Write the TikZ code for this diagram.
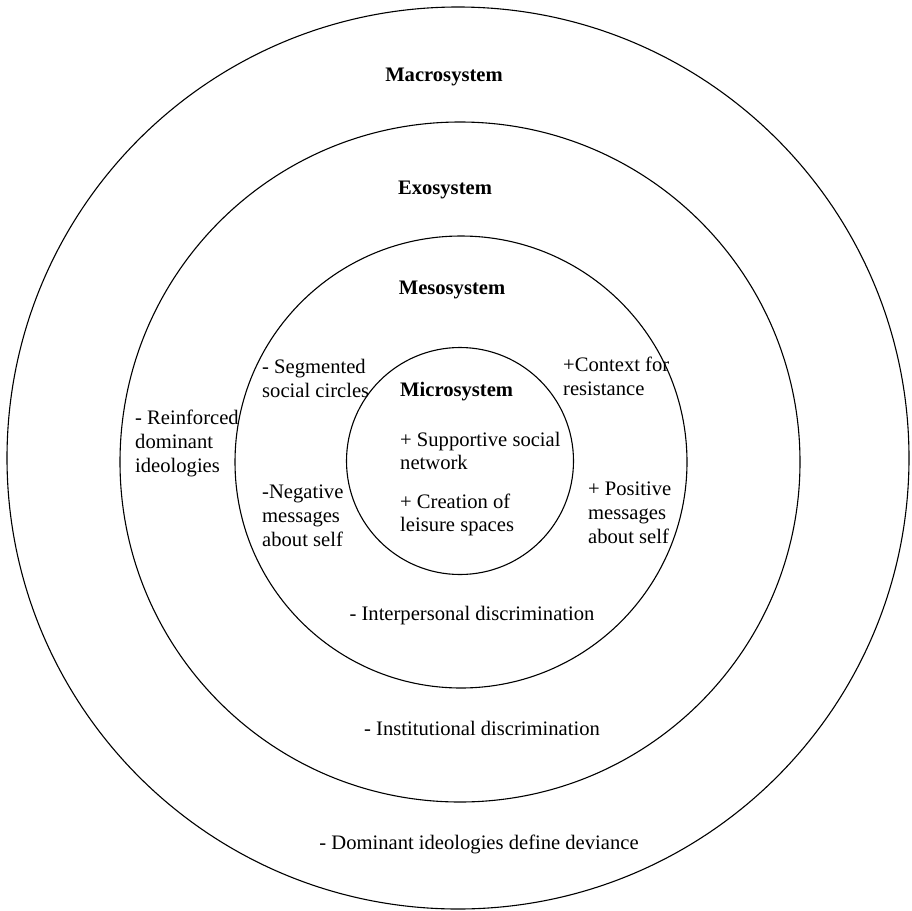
\documentclass[tikz,border=0pt]{standalone}
\usepackage{fontspec}
\setmainfont{Liberation Serif}
\begin{document}
\begin{tikzpicture}[x=1pt,y=-1pt,
  ring/.style={circle,draw,line width=1.1pt,inner sep=0pt},
  lbl/.style={inner sep=0pt,font=\fontsize{20.6}{23.8}\selectfont},
  ttl/.style={lbl,font=\fontsize{20.6}{23.8}\selectfont\bfseries},
  blk/.style={lbl,align=left,anchor=west}]
\useasboundingbox (0,0) rectangle (912,910);
\node[ring,minimum size=902pt] (macro) at (458,458) {};
\node[ring,minimum size=680pt] (exo) at (460,462) {};
\node[ring,minimum size=452pt] (meso) at (461,462) {};
\node[ring,minimum size=227pt] (micro) at (460,461) {};
\node[ttl] (tmacro) at (444,77) {Macrosystem};
\node[ttl] (texo) at (445,190) {Exosystem};
\node[ttl] (tmeso) at (452,290) {Mesosystem};
\node[ttl,anchor=west] (tmicro) at (400,392) {Microsystem};
\node[blk] (reinf) at (135,443.5) {- Reinforced\\dominant\\ideologies};
\node[blk] (segm) at (262,378.5) {- Segmented\\social circles};
\node[blk] (negm) at (262,516) {-Negative\\messages\\about self};
\node[blk] (supp) at (400,451) {+ Supportive social\\network};
\node[blk] (crea) at (400,515) {+ Creation of\\leisure spaces};
\node[blk] (ctx) at (563,376) {+Context for\\resistance};
\node[blk] (posm) at (588,512.5) {+ Positive\\messages\\about self};
\node[lbl] (inter) at (472,616) {- Interpersonal discrimination};
\node[lbl] (inst) at (482,728) {- Institutional discrimination};
\node[lbl] (domi) at (479,844) {- Dominant ideologies define deviance};
\end{tikzpicture}
\end{document}
